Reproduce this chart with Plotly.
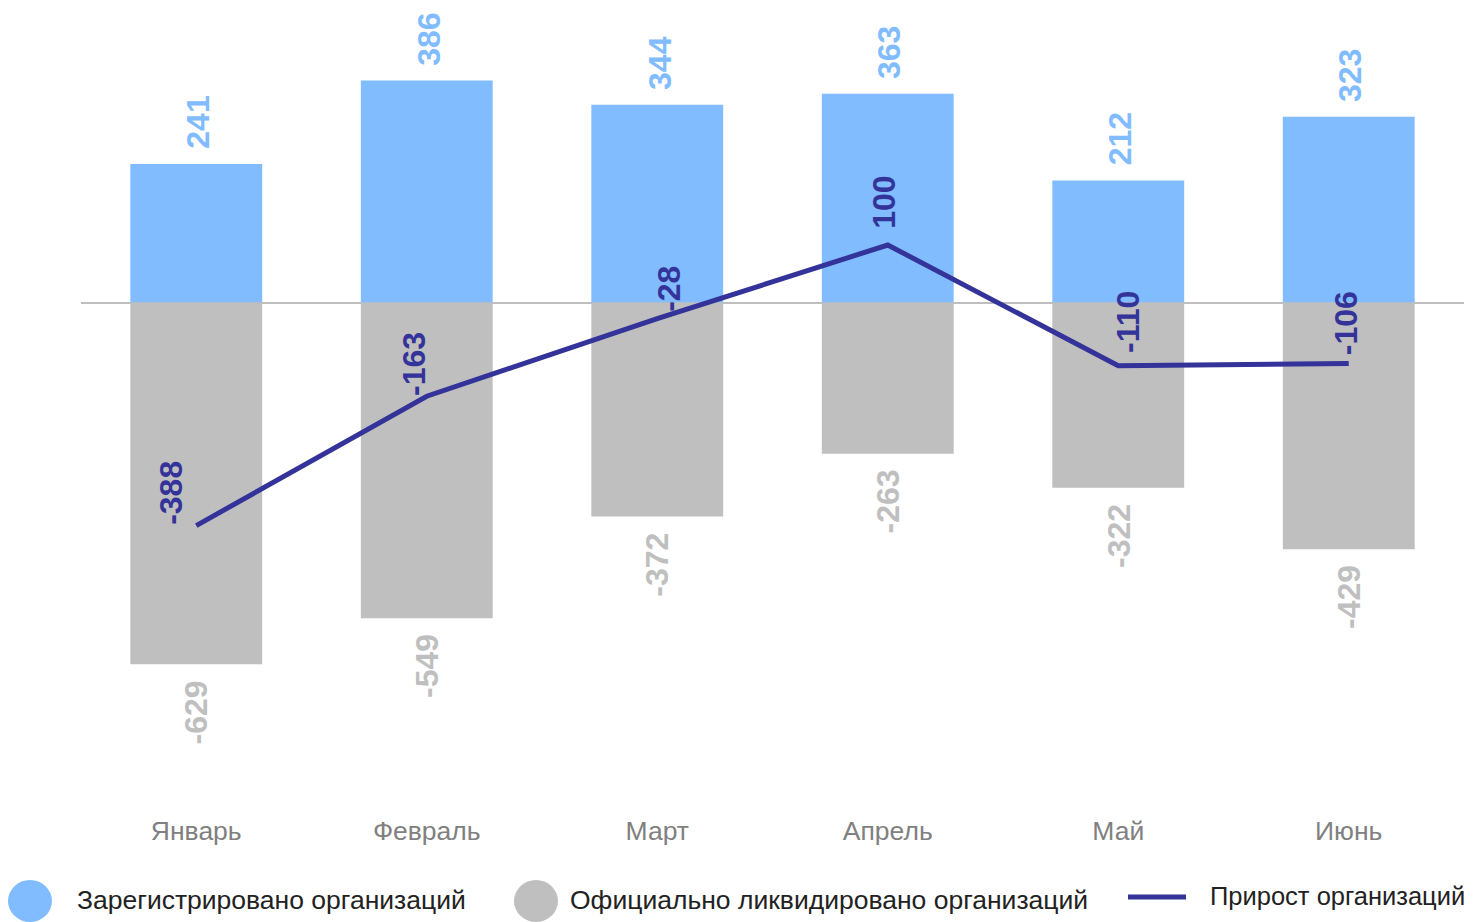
import plotly.graph_objects as go

months = ["Январь", "Февраль", "Март", "Апрель", "Май", "Июнь"]
registered = [241, 386, 344, 363, 212, 323]
liquidated = [-629, -549, -372, -263, -322, -429]
growth = [-388, -163, -28, 100, -110, -106]

name_reg = "Зарегистрировано организаций"
name_liq = "Официально ликвидировано организаций"
name_gr = "Прирост организаций"

# label offsets (pixels) for the growth line labels
gr_dx = [-26, -13, 11, -4, 9, -2]
gr_dy = [33, 32, 30, 43, 44, 40]

C_BLUE = "#80bcff"
C_GRAY = "#bfbfbf"
C_LINE = "#333399"
FONT = "Liberation Sans, Arial, sans-serif"

fig = go.Figure()
fig.add_trace(go.Bar(x=months, y=registered, name=name_reg, marker=dict(color=C_BLUE, line_width=0),
                     showlegend=False))
fig.add_trace(go.Bar(x=months, y=liquidated, name=name_liq, marker=dict(color=C_GRAY, line_width=0),
                     showlegend=False))
fig.add_trace(go.Scatter(x=months, y=growth, name=name_gr, mode="lines",
                         line=dict(color=C_LINE, width=5), showlegend=False))

LBL = 32
ann = []
for m, v in zip(months, registered):
    ann.append(dict(x=m, y=v, xref="x", yref="y", text=str(v), showarrow=False, textangle=-90,
                    xanchor="center", yanchor="bottom", yshift=13, xshift=2,
                    font=dict(family=FONT, size=LBL, color=C_BLUE, weight="bold")))
for m, v in zip(months, liquidated):
    ann.append(dict(x=m, y=v, xref="x", yref="y", text=str(v), showarrow=False, textangle=-90,
                    xanchor="center", yanchor="top", yshift=-14, xshift=0,
                    font=dict(family=FONT, size=LBL, color=C_GRAY, weight="bold")))
for m, v, dx, dy in zip(months, growth, gr_dx, gr_dy):
    ann.append(dict(x=m, y=v, xref="x", yref="y", text=str(v), showarrow=False, textangle=-90,
                    xanchor="center", yanchor="middle", yshift=dy, xshift=dx,
                    font=dict(family=FONT, size=LBL, color=C_LINE, weight="bold")))

# page body has an 8px margin; compensate so the figure lands at the reference pixels
O = 8
W, H = 1479 - O, 922 - O
L, R, T, B = 81 - O, 15, 10 - O, 110
pw, ph = W - L - R, H - T - B
def px(X):
    return (X - O - L) / pw
def py(Y):
    return (H - B - (Y - O)) / ph

shapes = []
for cx, col in [(30, C_BLUE), (536, C_GRAY)]:
    shapes.append(dict(type="circle", xref="paper", yref="paper", xsizemode="pixel", ysizemode="pixel",
                       xanchor=px(cx), yanchor=py(901), x0=-22, x1=22, y0=-21, y1=21,
                       fillcolor=col, line_width=0))
shapes.append(dict(type="line", xref="paper", yref="paper", x0=px(1128), x1=px(1186), y0=py(897), y1=py(897),
                   line=dict(color=C_LINE, width=5)))
for X, Y, t, fs in [(75, 900, name_reg, 26.5), (568, 900, name_liq, 26.5), (1208, 896, name_gr, 25.5)]:
    ann.append(dict(x=px(X), y=py(Y), xref="paper", yref="paper", text=t, showarrow=False,
                    xanchor="left", yanchor="middle",
                    font=dict(family=FONT, size=fs, color="#222222")))

ZERO, K = 302.5, 0.575
y_top = (ZERO - 10) / K
y_bot = -((922 - B) - ZERO) / K

fig.update_layout(
    width=W, height=H,
    margin=dict(l=L, r=R, t=T, b=B),
    paper_bgcolor="white", plot_bgcolor="white",
    barmode="relative", bargap=0.428,
    showlegend=False,
    annotations=ann, shapes=shapes,
    font=dict(family=FONT),
    xaxis=dict(showgrid=False, showline=False, ticks="", tickfont=dict(size=26.5, color="#808080", family=FONT),
               fixedrange=True),
    yaxis=dict(range=[y_bot, y_top], showgrid=False, showticklabels=False, zeroline=True,
               zerolinecolor=C_GRAY, zerolinewidth=2, showline=False),
)

fig.write_html("out.html")
